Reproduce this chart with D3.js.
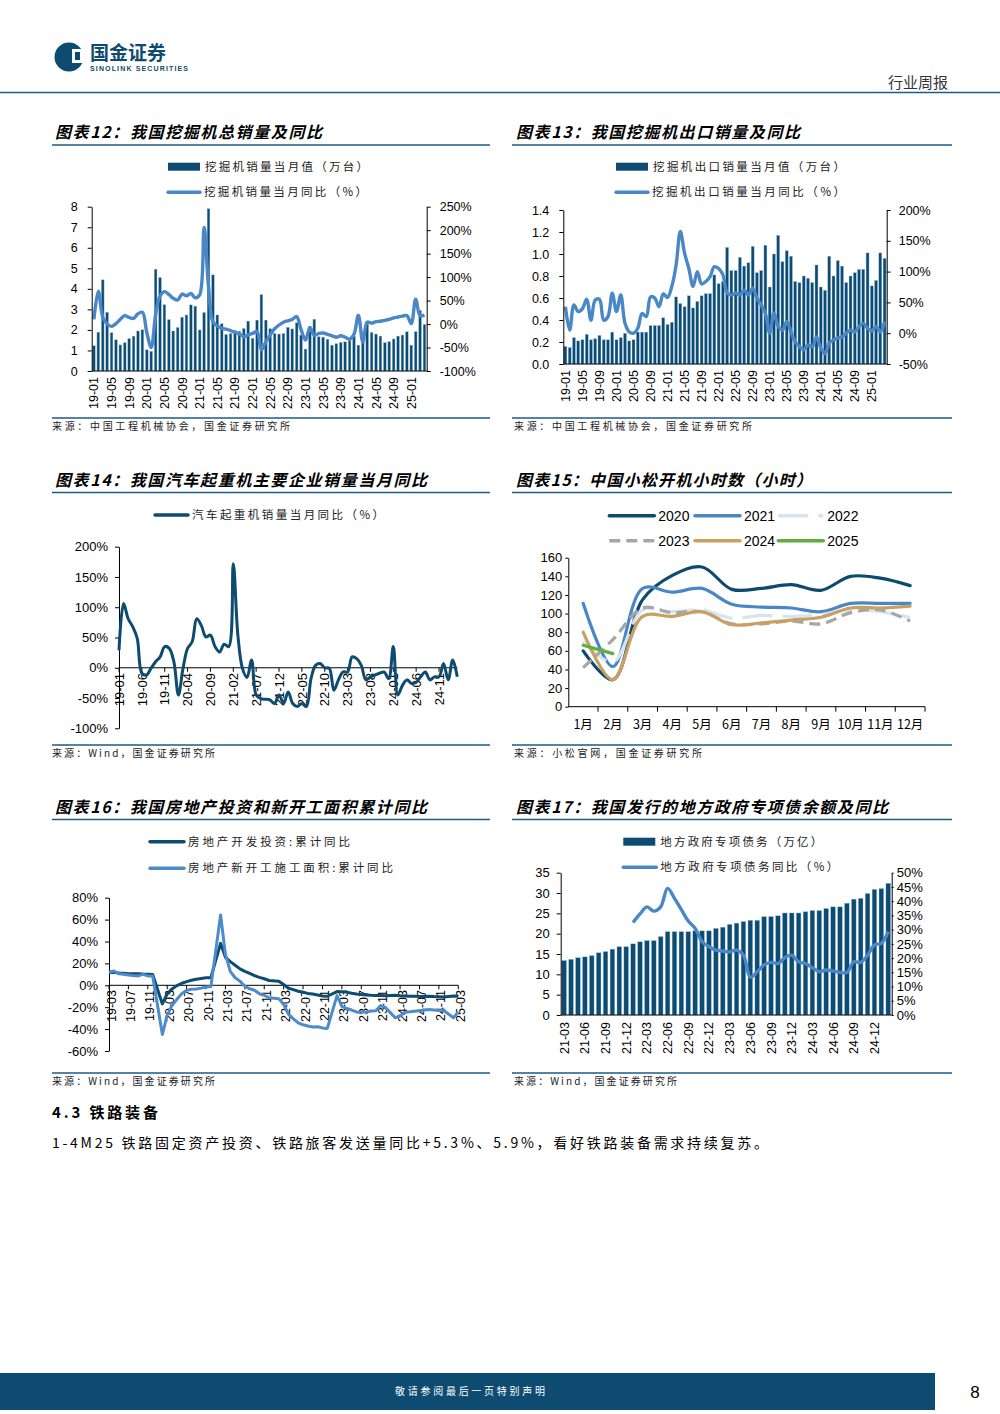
<!DOCTYPE html>
<html><head><meta charset="utf-8">
<script src="https://cdn.jsdelivr.net/npm/d3@7/dist/d3.min.js"></script>
<style>html,body{margin:0;padding:0;background:#fff;} svg{display:block;}</style>
</head><body>
<svg id="page" width="1000" height="1414" xmlns="http://www.w3.org/2000/svg"></svg>
<script>
// ================= DATA =================
function monthSeq(y, m, n) { const out = []; for (let i = 0; i < n; i++) { out.push(String(y).padStart(2, "0") + "-" + String(m).padStart(2, "0")); m++; if (m > 12) { m = 1; y++; } } return out; }

// Chart 12: excavator total sales (10k units) and YoY (%)
const months12 = monthSeq(19, 1, 76);
const sales12 = [1.23,1.89,4.44,2.86,1.87,1.52,1.27,1.38,1.58,1.70,1.95,2.01,
 1.03,0.96,4.96,4.55,3.23,2.50,1.95,2.12,2.62,2.73,3.22,3.16,
 2.00,2.85,7.90,4.68,2.73,2.30,1.78,1.83,1.98,1.94,2.07,2.43,
 1.60,2.48,3.72,2.48,2.06,1.83,1.80,1.83,2.13,2.05,2.35,1.75,
 1.07,2.18,2.52,1.67,1.65,1.55,1.26,1.33,1.40,1.42,1.48,1.70,
 1.26,1.42,2.40,1.88,1.80,1.70,1.38,1.43,1.56,1.70,1.75,1.91,
 1.26,1.92,2.95,2.27];
const yoy12 = [10,70,15,0,-5,1,10,18,14,12,22,25,
 -18,-50,20,60,69,63,55,51,64,60,65,56,
 62,206,80,5,-4,-9,-11,-14,-18,-21,-27,-23,
 -20,-16,-55,-38,-23,-10,-2,4,7,10,16,-12,
 -34,-8,-24,-20,-19,-22,-25,-28,-25,-28,-32,-22,
 19,-38,4,2,5,6,8,10,13,15,17,18,
 1,53,18,19];
const ticks12 = ["19-01","19-05","19-09","20-01","20-05","20-09","21-01","21-05","21-09","22-01","22-05","22-09","23-01","23-05","23-09","24-01","24-05","24-09","25-01"];
const yTicks12L = [0,1,2,3,4,5,6,7,8];
const yTicks12R = [-100,-50,0,50,100,150,200,250];

// Chart 13: excavator exports (10k units) and YoY (%)
const months13 = monthSeq(19, 1, 76);
const export13 = [0.16,0.15,0.24,0.21,0.22,0.27,0.22,0.23,0.26,0.22,0.22,0.29,
 0.22,0.24,0.28,0.21,0.22,0.29,0.29,0.29,0.35,0.35,0.35,0.42,
 0.36,0.38,0.61,0.55,0.52,0.62,0.51,0.57,0.62,0.64,0.64,0.81,
 0.73,0.75,1.06,0.85,0.85,0.97,0.89,0.92,1.07,0.83,0.85,1.08,
 0.70,1.00,1.17,0.93,1.03,0.98,0.75,0.74,0.80,0.78,0.74,0.90,
 0.70,0.67,0.98,0.80,0.94,0.89,0.74,0.80,0.83,0.86,0.86,1.01,
 0.71,0.76,1.01,0.96];
const yoy13 = [43,5,46,35,40,55,21,54,55,21,27,65,
 35,62,16,2,0,8,32,27,59,57,43,64,
 58,76,110,165,130,105,76,100,80,84,92,108,
 105,95,65,62,65,62,70,62,73,57,46,32,
 0,33,11,5,19,2,-14,-22,-27,-19,-22,-6,
 -24,-33,-16,-11,-8,-6,0,5,2,11,16,8,
 4,11,2,19];
const ticks13 = ticks12.slice();
const yTicks13L = [0,0.2,0.4,0.6,0.8,1.0,1.2,1.4];
const yTicks13R = [-50,0,50,100,150,200];

// Chart 14: truck crane sales YoY (%)
const months14 = monthSeq(19, 1, 75);
const crane14 = [29,106,81,68,48,-9,-12,-1,10,18,35,32,
 10,-45,-1,32,43,81,70,51,54,35,26,39,
 35,172,54,-1,-16,13,-45,-51,-52,-53,-59,-45,
 -59,-40,-59,-64,-59,-64,-18,4,7,0,-1,-37,
 -20,-7,-7,18,15,4,-20,-15,-12,-9,-7,-18,
 35,-45,-29,-20,-26,-24,-15,-7,-20,-15,-15,7,
 -20,13,-15];
const ticks14 = ["19-01","19-06","19-11","20-04","20-09","21-02","21-07","21-12","22-05","22-10","23-03","23-08","24-01","24-06","24-11"];
const yTicks14 = [-100,-50,0,50,100,150,200];

// Chart 15: Komatsu working hours (hours)
const months15 = ["1月","2月","3月","4月","5月","6月","7月","8月","9月","10月","11月","12月"];
const hours2020 = [60,29,115,141,150,126,127,131,125,140,138,130];
const hours2021 = [111,43,127,123,127,110,107,106,102,111,111,111];
const hours2022 = [70,48,104,102,104,95,98,97,99,104,102,96];
const hours2023 = [42,72,106,101,102,89,89,92,89,101,104,92];
const hours2024 = [80,29,97,97,102,88,90,93,96,106,106,108];
const hours2025 = [66,57];
const yTicks15 = [0,20,40,60,80,100,120,140,160];

// Chart 16: real estate cumulative YoY (%), January not published
const months16 = monthSeq(19, 3, 73);
const invest16 = [11.8,11.9,11.2,10.9,10.6,10.5,10.5,10.3,10.2,9.9,
 null,-17,-7.7,-3.3,-0.3,1.9,3.4,4.6,5.6,6.3,6.8,7.0,
 null,38.3,25.6,21.6,18.3,15.0,12.7,10.9,8.8,7.2,6.0,4.4,
 null,3.7,0.7,-2.7,-4.0,-5.4,-6.4,-7.4,-8.0,-8.8,-9.8,-10.0,
 null,-5.7,-5.8,-6.2,-7.2,-7.9,-8.5,-8.8,-9.1,-9.3,-9.4,-9.6,
 null,-9.0,-9.5,-9.8,-10.1,-10.1,-10.2,-10.2,-10.1,-10.3,-10.4,-10.6,
 null,-9.8,-9.9];
const starts16 = [11.9,13.1,10.5,10.1,9.5,8.9,8.6,10.0,8.6,8.5,
 null,-44.9,-27.2,-18.4,-12.8,-7.6,-4.5,-3.6,-3.4,-2.6,-1.6,-1.2,
 null,64.3,28.2,12.8,6.9,3.8,-0.9,-3.2,-4.5,-7.7,-9.1,-11.4,
 null,-12.2,-17.5,-26.3,-30.6,-34.4,-36.1,-37.2,-38.0,-37.8,-38.9,-39.4,
 null,-9.4,-19.2,-21.2,-22.6,-24.3,-24.5,-24.4,-23.4,-23.2,-18.5,-20.4,
 null,-29.7,-27.8,-24.6,-24.2,-23.7,-23.2,-22.5,-22.2,-22.6,-23.0,-23.0,
 null,-29.6,-24.4];
const ticks16 = ["19-03","19-07","19-11","20-03","20-07","20-11","21-03","21-07","21-11","22-03","22-07","22-11","23-03","23-07","23-11","24-03","24-07","24-11","25-03"];
const yTicks16 = [-60,-40,-20,0,20,40,60,80];

// Chart 17: local government special bonds balance (trillion) and YoY (%)
const months17 = monthSeq(21, 3, 48);
const bonds17 = [13.4,13.7,14.1,14.3,14.6,15.3,15.6,16.2,16.8,16.8,17.5,18.0,
 18.3,18.3,19.3,20.5,20.5,20.5,20.5,20.7,20.7,20.7,21.3,21.6,
 22.3,22.6,23.0,23.3,23.3,24.2,24.2,24.4,25.1,25.1,25.1,25.4,
 25.7,25.7,26.2,26.6,26.6,27.5,28.5,28.7,29.9,30.9,31.1,32.4];
const yoy17 = [null,null,null,null,null,null,null,null,null,null,
 32.5,35.5,38,36.5,38,44.5,41,37,33,30.4,25.8,24,22.8,22.5,22.2,22.8,21,13.3,
 15.2,17.6,18.5,18.1,20.1,21,18.7,18.1,16.6,15.2,15.8,15.5,15,14.9,18.7,18.5,21,24.6,25.2,29.3];
const ticks17 = ["21-03","21-06","21-09","21-12","22-03","22-06","22-09","22-12","23-03","23-06","23-09","23-12","24-03","24-06","24-09","24-12"];
const yTicks17L = [0,5,10,15,20,25,30,35];
const yTicks17R = [0,5,10,15,20,25,30,35,40,45,50];

// ================= STYLE =================
const CJK = "'Noto Sans CJK SC','Noto Sans',sans-serif";
const LAT = "'Liberation Sans',Arial,sans-serif";
const NAVY = "#0e4b70";
const MID = "#4a87c7";
const RULE = "#1d5a84";

const svg = d3.select("#page");
svg.append("rect").attr("width", 1000).attr("height", 1414).attr("fill", "#fff");

function text(g, x, y, s, o = {}) {
  const t = g.append("text").attr("x", x).attr("y", y).text(s)
    .attr("font-family", o.family || CJK).attr("font-size", o.size || 12)
    .attr("fill", o.fill || "#000");
  if (o.weight) t.attr("font-weight", o.weight);
  if (o.style) t.attr("font-style", o.style);
  if (o.anchor) t.attr("text-anchor", o.anchor);
  if (o.dy) t.attr("dy", o.dy);
  if (o.len) t.attr("textLength", o.len).attr("lengthAdjust", "spacing");
  return t;
}
function hline(g, x1, x2, y, stroke, w) {
  g.append("line").attr("x1", x1).attr("x2", x2).attr("y1", y).attr("y2", y).attr("stroke", stroke).attr("stroke-width", w);
}
function styleAxis(sel, size) {
  sel.select(".domain").attr("stroke", "#000").attr("stroke-width", 1);
  sel.selectAll(".tick line").attr("stroke", "#000");
  sel.selectAll(".tick text").attr("font-family", LAT).attr("font-size", size).attr("fill", "#000");
}
function rotLabels(g, labels, xf, yTop, size) {
  g.selectAll(null).data(labels).join("text")
    .attr("transform", d => `translate(${xf(d)},${yTop}) rotate(-90)`)
    .attr("text-anchor", "end").attr("dy", "0.36em")
    .attr("font-family", LAT).attr("font-size", size).attr("fill", "#000").text(d => d);
}
function frame(left, titleY, title, titleLen, ruleY, srcY, src, srcLen) {
  const x1 = left ? 52 : 512, x2 = left ? 490 : 952;
  text(svg, left ? 55 : 516, titleY, title, { size: 16, weight: "bold", style: "italic", len: titleLen });
  hline(svg, x1, x2, ruleY, RULE, 1.4);
  hline(svg, x1, x2, srcY - 12, RULE, 1.4);
  text(svg, left ? 52 : 514, srcY, src, { size: 10, len: srcLen, fill: "#222" });
}
function legBar(g, x, y, label, len) {
  g.append("rect").attr("x", x).attr("y", y - 4).attr("width", 32).attr("height", 8).attr("fill", NAVY);
  text(g, x + 37, y, label, { size: 11.5, len: len, dy: "0.36em", fill: "#222" });
}
function legLine(g, x, y, color, label, len, w = 32, dash = null, font = CJK, size = 11.5) {
  const l = g.append("line").attr("x1", x).attr("x2", x + w).attr("y1", y).attr("y2", y)
    .attr("stroke", color).attr("stroke-width", 3.5).attr("stroke-linecap", "round");
  if (dash) l.attr("stroke-dasharray", dash).attr("stroke-linecap", "butt");
  text(g, x + w + 4, y, label, { size: size, len: len, dy: "0.36em", family: font, fill: font === LAT ? "#000" : "#222" });
}

// ================= HEADER =================
(function header() {
  const g = svg.append("g");
  g.append("circle").attr("cx", 69).attr("cy", 57).attr("r", 14.5).attr("fill", NAVY);
  g.append("rect").attr("x", 72).attr("y", 49).attr("width", 12).attr("height", 14).attr("fill", "#fff");
  g.append("rect").attr("x", 75).attr("y", 52).attr("width", 5).attr("height", 8).attr("fill", NAVY);
  text(g, 90, 60, "国金证券", { size: 19, weight: "bold", fill: NAVY });
  text(g, 90, 71, "SINOLINK SECURITIES", { size: 7, weight: "bold", fill: NAVY, family: LAT, len: 98 });
  text(g, 948, 88, "行业周报", { size: 15, anchor: "end", fill: "#333" });
  hline(g, 0, 1000, 92.5, RULE, 1.6);
})();

// ================= FRAMES =================
frame(true, 138, "图表12：我国挖掘机总销量及同比", 267, 145, 430, "来源：中国工程机械协会，国金证券研究所", 238);
frame(false, 138, "图表13：我国挖掘机出口销量及同比", 284, 145, 430, "来源：中国工程机械协会，国金证券研究所", 238);
frame(true, 486, "图表14：我国汽车起重机主要企业销量当月同比", 372, 492.5, 757, "来源：Wind，国金证券研究所", 163);
frame(false, 486, "图表15：中国小松开机小时数（小时）", 296, 492.5, 757, "来源：小松官网，国金证券研究所", 188);
frame(true, 813, "图表16：我国房地产投资和新开工面积累计同比", 372, 819.5, 1085, "来源：Wind，国金证券研究所", 163);
frame(false, 813, "图表17：我国发行的地方政府专项债余额及同比", 372, 819.5, 1085, "来源：Wind，国金证券研究所", 163);

// ================= CHART 12 =================
(function () {
  const g = svg.append("g");
  const x0 = 91.7, x1 = 426.7, yb = 371, yt = 206.7;
  const x = d3.scaleBand().domain(months12).range([x0, x1]).paddingInner(0.38).paddingOuter(0.19);
  const yL = d3.scaleLinear().domain([0, 8]).range([yb, yt]);
  const yR = d3.scaleLinear().domain([-100, 250]).range([yb, yt]);
  g.selectAll(null).data(sales12).join("rect")
    .attr("x", (d, i) => x(months12[i])).attr("y", d => yL(d))
    .attr("width", x.bandwidth()).attr("height", d => yL(0) - yL(d))
    .attr("fill", NAVY).attr("stroke", "#9cc3e5").attr("stroke-width", 0.4);
  const line = d3.line().x((d, i) => x(months12[i]) + x.bandwidth() / 2).y(d => yR(d)).curve(d3.curveCatmullRom.alpha(0.5));
  g.append("path").attr("d", line(yoy12)).attr("fill", "none").attr("stroke", MID).attr("stroke-width", 3.4).attr("stroke-linejoin", "round");
  const aL = g.append("g").attr("transform", `translate(${x0},0)`)
    .call(d3.axisLeft(yL).tickValues(yTicks12L).tickFormat(d3.format("d")).tickSizeInner(4).tickSizeOuter(0).tickPadding(10));
  styleAxis(aL, 12.5);
  const aR = g.append("g").attr("transform", `translate(${x1},0)`)
    .call(d3.axisRight(yR).tickValues(yTicks12R).tickFormat(d => d + "%").tickSizeInner(4).tickSizeOuter(0).tickPadding(9));
  styleAxis(aR, 12.5);
  hline(g, x0, x1, yb, "#000", 1);
  rotLabels(g, ticks12, d => x(d) + x.bandwidth() / 2, 377, 12.5);
  legBar(g, 168, 166.7, "挖掘机销量当月值（万台）", 163);
  legLine(g, 168, 192.3, MID, "挖掘机销量当月同比（%）", 163);
})();

// ================= CHART 13 =================
(function () {
  const g = svg.append("g");
  const x0 = 563.3, x1 = 886.7, yb = 364, yt = 210;
  const x = d3.scaleBand().domain(months13).range([x0, x1]).paddingInner(0.3).paddingOuter(0.15);
  const yL = d3.scaleLinear().domain([0, 1.4]).range([yb, yt]);
  const yR = d3.scaleLinear().domain([-50, 200]).range([yb, yt]);
  g.selectAll(null).data(export13).join("rect")
    .attr("x", (d, i) => x(months13[i])).attr("y", d => yL(d))
    .attr("width", x.bandwidth()).attr("height", d => yL(0) - yL(d))
    .attr("fill", NAVY).attr("stroke", "#9cc3e5").attr("stroke-width", 0.4);
  const line = d3.line().x((d, i) => x(months13[i]) + x.bandwidth() / 2).y(d => yR(d)).curve(d3.curveCatmullRom.alpha(0.5));
  g.append("path").attr("d", line(yoy13)).attr("fill", "none").attr("stroke", MID).attr("stroke-width", 3.4).attr("stroke-linejoin", "round");
  const aL = g.append("g").attr("transform", `translate(${x0},0)`)
    .call(d3.axisLeft(yL).tickValues(yTicks13L).tickFormat(d3.format(".1f")).tickSizeInner(4).tickSizeOuter(0).tickPadding(10));
  styleAxis(aL, 12.5);
  const aR = g.append("g").attr("transform", `translate(${x1},0)`)
    .call(d3.axisRight(yR).tickValues(yTicks13R).tickFormat(d => d + "%").tickSizeInner(4).tickSizeOuter(0).tickPadding(8));
  styleAxis(aR, 12.5);
  hline(g, x0, x1, yb, "#000", 1);
  rotLabels(g, ticks13, d => x(d) + x.bandwidth() / 2, 370, 12.5);
  legBar(g, 616, 166.7, "挖掘机出口销量当月值（万台）", 192);
  legLine(g, 616, 192.3, MID, "挖掘机出口销量当月同比（%）", 193);
})();

// ================= CHART 14 =================
(function () {
  const g = svg.append("g");
  const x0 = 119, x1 = 457.3;
  const x = d3.scalePoint().domain(months14).range([x0, x1]);
  const y = d3.scaleLinear().domain([-100, 200]).range([728.3, 546.7]);
  const aL = g.append("g").attr("transform", `translate(${x0},0)`)
    .call(d3.axisLeft(y).tickValues(yTicks14).tickFormat(d => d + "%").tickSizeInner(4).tickSizeOuter(0).tickPadding(7));
  styleAxis(aL, 13);
  hline(g, x0, x1, y(0), "#000", 1);
  g.selectAll(null).data(ticks14).join("line")
    .attr("x1", d => x(d)).attr("x2", d => x(d)).attr("y1", y(0)).attr("y2", y(0) + 4).attr("stroke", "#000");
  rotLabels(g, ticks14, d => x(d), 673, 13);
  const line = d3.line().x((d, i) => x(months14[i])).y(d => y(d)).curve(d3.curveCatmullRom.alpha(0.5));
  g.append("path").attr("d", line(crane14)).attr("fill", "none").attr("stroke", NAVY).attr("stroke-width", 3).attr("stroke-linejoin", "round");
  legLine(g, 155, 515, NAVY, "汽车起重机销量当月同比（%）", 192, 33);
})();

// ================= CHART 15 =================
(function () {
  const g = svg.append("g");
  const x0 = 568.3, x1 = 925, yb = 706.7;
  const x = d3.scaleBand().domain(months15).range([x0, x1]);
  const y = d3.scaleLinear().domain([0, 160]).range([yb, 557.7]);
  const aL = g.append("g").attr("transform", `translate(${x0},0)`)
    .call(d3.axisLeft(y).tickValues(yTicks15).tickFormat(d3.format("d")).tickSizeInner(3).tickSizeOuter(0).tickPadding(3));
  styleAxis(aL, 13);
  hline(g, x0, x1, yb, "#000", 1);
  g.selectAll(null).data(months15).join("line")
    .attr("x1", d => x(d) + x.bandwidth()).attr("x2", d => x(d) + x.bandwidth())
    .attr("y1", yb).attr("y2", yb + 5).attr("stroke", "#000");
  g.selectAll(null).data(months15).join("text")
    .attr("x", d => x(d) + x.bandwidth() / 2).attr("y", 729).attr("text-anchor", "middle")
    .attr("font-family", CJK).attr("font-size", 12.5).attr("fill", "#000").text(d => d);
  const series = [
    { name: "2020", data: hours2020, color: "#0d4a6f", dash: null },
    { name: "2021", data: hours2021, color: "#4a86c5", dash: null },
    { name: "2022", data: hours2022, color: "#d6e4f2", dash: "30,10" },
    { name: "2023", data: hours2023, color: "#a6a6a6", dash: "11,6" },
    { name: "2024", data: hours2024, color: "#c8a062", dash: null },
    { name: "2025", data: hours2025, color: "#62ad3f", dash: null }
  ];
  const line = d3.line().x((d, i) => x(months15[i]) + x.bandwidth() / 2).y(d => y(d)).curve(d3.curveCatmullRom.alpha(0.5));
  series.forEach(s => {
    const p = g.append("path").attr("d", line(s.data)).attr("fill", "none").attr("stroke", s.color)
      .attr("stroke-width", 3.2).attr("stroke-linejoin", "round").attr("stroke-linecap", "round");
    if (s.dash) p.attr("stroke-dasharray", s.dash).attr("stroke-linecap", "butt");
  });
  const pos = [[609.3, 515.7], [695, 515.7], [778.3, 515.7], [609.3, 540.7], [695, 540.7], [778.3, 540.7]];
  series.forEach((s, i) => legLine(g, pos[i][0], pos[i][1], s.color, s.name, null, 45, s.dash, LAT, 14));
})();

// ================= CHART 16 =================
(function () {
  const g = svg.append("g");
  const x0 = 109, x1 = 458.3;
  const x = d3.scalePoint().domain(months16).range([x0, x1]);
  const y = d3.scaleLinear().domain([-60, 80]).range([1051, 897.7]);
  const aL = g.append("g").attr("transform", `translate(${x0},0)`)
    .call(d3.axisLeft(y).tickValues(yTicks16).tickFormat(d => d + "%").tickSizeInner(4).tickSizeOuter(0).tickPadding(7));
  styleAxis(aL, 13);
  hline(g, x0, x1, y(0), "#000", 1);
  g.selectAll(null).data(ticks16).join("line")
    .attr("x1", d => x(d)).attr("x2", d => x(d)).attr("y1", y(0)).attr("y2", y(0) + 4).attr("stroke", "#000");
  rotLabels(g, ticks16, d => x(d) + 2, 990, 12.5);
  const line = d3.line().x(d => x(d.m)).y(d => y(d.v));
  const pts = arr => months16.map((m, i) => ({ m, v: arr[i] })).filter(d => d.v != null);
  g.append("path").attr("d", line(pts(invest16))).attr("fill", "none").attr("stroke", NAVY).attr("stroke-width", 3).attr("stroke-linejoin", "round");
  g.append("path").attr("d", line(pts(starts16))).attr("fill", "none").attr("stroke", "#4d8bcb").attr("stroke-width", 3).attr("stroke-linejoin", "round");
  legLine(g, 150, 841.7, NAVY, "房地产开发投资:累计同比", 162, 34);
  legLine(g, 150, 868.3, "#4d8bcb", "房地产新开工施工面积:累计同比", 205, 34);
})();

// ================= CHART 17 =================
(function () {
  const g = svg.append("g");
  const x0 = 560.7, x1 = 891.7, yb = 1015, yt = 872.7;
  const x = d3.scaleBand().domain(months17).range([x0, x1]).paddingInner(0.32).paddingOuter(0.16);
  const yL = d3.scaleLinear().domain([0, 35]).range([yb, yt]);
  const yR = d3.scaleLinear().domain([0, 50]).range([yb, yt]);
  g.selectAll(null).data(bonds17).join("rect")
    .attr("x", (d, i) => x(months17[i])).attr("y", d => yL(d))
    .attr("width", x.bandwidth()).attr("height", d => yL(0) - yL(d))
    .attr("fill", NAVY).attr("stroke", "#9cc3e5").attr("stroke-width", 0.4);
  const line = d3.line().defined(d => d != null)
    .x((d, i) => x(months17[i]) + x.bandwidth() / 2).y(d => yR(d)).curve(d3.curveCatmullRom.alpha(0.5));
  g.append("path").attr("d", line(yoy17)).attr("fill", "none").attr("stroke", MID).attr("stroke-width", 3.4).attr("stroke-linejoin", "round");
  const aL = g.append("g").attr("transform", `translate(${x0},0)`)
    .call(d3.axisLeft(yL).tickValues(yTicks17L).tickFormat(d3.format("d")).tickSizeInner(4).tickSizeOuter(0).tickPadding(7));
  styleAxis(aL, 13);
  const aR = g.append("g").attr("transform", `translate(${x1},0)`)
    .call(d3.axisRight(yR).tickValues(yTicks17R).tickFormat(d => d + "%").tickSizeInner(2).tickSizeOuter(0).tickPadding(3));
  styleAxis(aR, 13);
  hline(g, x0, x1, yb, "#000", 1);
  rotLabels(g, ticks17, d => x(d) + x.bandwidth() / 2, 1022, 12.5);
  legBar(g, 623.3, 841.7, "地方政府专项债务（万亿）", 162);
  legLine(g, 623.3, 867.3, MID, "地方政府专项债务同比（%）", 178, 33);
})();

// ================= BODY TEXT =================
text(svg, 52, 1118, "4.3 铁路装备", { size: 15, weight: "bold", len: 106 });
text(svg, 52, 1148, "1-4M25 铁路固定资产投资、铁路旅客发送量同比+5.3%、5.9%，看好铁路装备需求持续复苏。", { size: 14, len: 716 });

// ================= FOOTER =================
svg.append("rect").attr("x", 0).attr("y", 1373).attr("width", 935).attr("height", 37).attr("fill", NAVY);
text(svg, 470, 1395, "敬请参阅最后一页特别声明", { size: 10, fill: "#fff", anchor: "middle", len: 150 });
text(svg, 975, 1398, "8", { size: 17, family: LAT, anchor: "middle" });
</script>
</body></html>
